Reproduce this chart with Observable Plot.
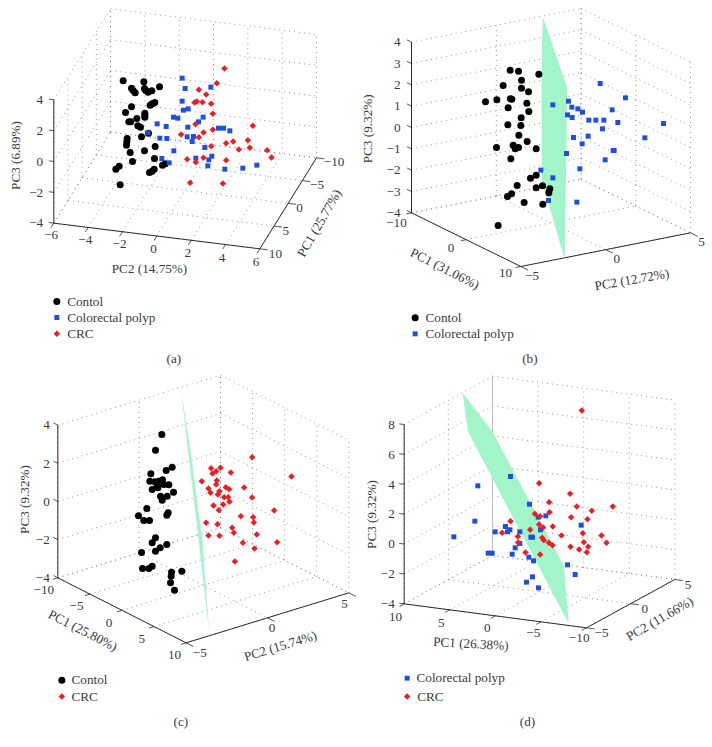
<!DOCTYPE html>
<html><head><meta charset="utf-8">
<script src="https://cdn.jsdelivr.net/npm/d3@7"></script>
<script src="https://cdn.jsdelivr.net/npm/@observablehq/plot@0.6"></script>
<style>
html,body{margin:0;padding:0;background:#fff;overflow:hidden}
#wrap{display:flex;flex-wrap:wrap;width:712px;height:747px}
svg{display:block}
</style></head><body><div id="wrap"></div>
<script>
// Scatter values (projected plane units, 1068 x 1122 per panel)
const aControl=[[368,241],[430,244],[477,259],[393,263],[398,270],[404,277],[432,264],[436,270],[454,271],[443,275],[463,306],[455,310],[449,314],[393,319],[375,336],[433,338],[433,345],[409,354],[385,364],[391,364],[433,350],[412,376],[420,380],[444,398],[423,409],[380,414],[379,424],[378,434],[464,438],[432,451],[389,456],[462,474],[396,483],[486,494],[494,490],[461,506],[447,516],[455,512],[356,497],[346,506],[359,553]];
const aPolyp=[[545,233],[554,264],[631,260],[545,302],[563,325],[549,329],[519,350],[532,353],[470,370],[497,378],[608,350],[594,364],[562,380],[443,397],[478,413],[499,414],[560,409],[579,408],[575,423],[654,383],[669,383],[688,391],[613,441],[520,451],[484,474],[586,473],[634,467],[625,478],[506,487],[622,496],[673,506],[727,503],[769,494]];
const aCRC=[[672,204],[649,248],[595,268],[617,282],[582,306],[589,303],[606,305],[632,310],[637,340],[585,371],[637,388],[757,376],[609,396],[595,410],[542,402],[742,419],[698,423],[677,428],[632,437],[748,442],[715,447],[800,449],[813,471],[560,476],[609,472],[586,485],[677,479],[569,547],[667,549]];
const bControl=[[461,209],[486,212],[547,221],[495,239],[440,255],[495,263],[516,274],[387,304],[421,298],[462,295],[466,296],[511,308],[455,322],[517,333],[494,352],[454,373],[493,375],[487,404],[512,423],[420,441],[470,434],[476,445],[486,441],[539,445],[463,475],[539,524],[522,533],[482,555],[539,562],[558,556],[580,565],[577,577],[465,580],[453,588],[503,606],[559,611],[425,675]];
const bPolyp=[[731,249],[807,292],[589,313],[636,302],[646,320],[664,325],[678,335],[767,328],[633,343],[647,351],[697,359],[718,359],[742,359],[784,366],[921,369],[738,385],[651,411],[695,407],[865,412],[677,430],[630,459],[770,450],[773,450],[746,478],[670,505],[553,509],[589,532],[576,600],[661,605]];
const cControl=[[484,180],[465,227],[515,278],[497,288],[451,298],[448,320],[463,322],[475,320],[486,316],[505,331],[490,330],[470,332],[455,345],[472,340],[519,353],[480,365],[500,365],[485,377],[439,402],[503,415],[499,422],[414,424],[430,438],[447,438],[465,490],[455,505],[499,510],[479,520],[465,530],[423,534],[455,575],[445,582],[426,582],[513,593],[544,590],[512,605],[510,625],[522,647]];
const cCRC=[[755,248],[873,306],[632,281],[660,280],[647,290],[636,297],[691,294],[604,320],[649,318],[647,330],[624,342],[630,355],[676,338],[686,344],[731,339],[657,350],[652,360],[755,369],[671,368],[683,368],[687,382],[668,390],[639,393],[655,407],[821,408],[721,425],[758,428],[760,444],[617,445],[651,449],[695,460],[700,475],[624,483],[657,484],[769,480],[727,505],[830,503],[762,522],[703,561]];
const dPolyp=[[462,306],[364,334],[519,389],[568,424],[545,428],[355,440],[674,452],[447,456],[460,466],[453,472],[416,472],[490,472],[552,466],[292,487],[523,488],[528,488],[490,507],[476,520],[467,539],[395,536],[407,536],[517,548],[531,559],[633,571],[656,600],[528,607],[510,623],[546,640]];
const dCRC=[[676,108],[548,326],[641,358],[578,383],[661,396],[769,396],[706,409],[579,413],[535,418],[551,425],[644,428],[693,434],[462,440],[548,450],[560,459],[589,456],[521,466],[679,476],[437,475],[615,483],[735,483],[484,486],[557,490],[562,497],[485,504],[682,503],[750,505],[577,505],[588,512],[642,517],[695,517],[668,525],[691,533],[507,534],[551,540]];

// Separating planes
const bPlane=[[560,52],[632,262],[625,768],[622,768],[556,540],[555,300],[556,130]];
const cPlane=[[542,45],[573,250],[606,500],[626,775],[595,500],[565,250]];
const dPlane=[[318,55],[408,172],[612,555],[622,575],[637,748],[520,525],[335,172]];

// Axis ticks
const aPC2=[-6,-4,-2,0,2,4,6], aPC1=[10,5,0,-5,-10], aPC3=[-4,-2,0,2,4];
const bPC1=[-10,0,10], bPC2=[-5,0,5], bPC3=[-4,-3,-2,-1,0,1,2,3,4];
const cPC1=[-10,-5,0,5,10], cPC2=[-5,0,5], cPC3=[-4,-2,0,2,4];
const dPC1=[10,5,0,-5,-10], dPC2=[-5,0,5], dPC3=[-4,-2,0,2,4,6,8];

const BLACK="#000", BLUE="#1f4fe0", RED="#ee1c25", PLANE="#a2f5c9", INK="#3a3a3a", GRID="#808080";
const FONT="'Liberation Serif',serif";
const sym={c:{symbol:"circle",r:3.5,fill:BLACK},p:{symbol:"square",r:2.8,fill:BLUE},r:{symbol:"diamond2",r:2.9,fill:RED}};
const minus=v=>String(v).replace("-","\u2212");

const panels=[
{h:374,A:[160,668],B:[778,745],C:[948,472],zh:370,u:aPC2,v:aPC1,z:aPC3,zx:128,
 uL:[[152,703],[767,785],"middle"],vL:[[805,760],[970,485],"start"],
 labels:[["PC2 (14.75%)",447,805,0],["PC3 (6.89%)",45,465,-90],["PC1 (25.77%)",957,668,-60]],
 series:[[aControl,"c"],[aPolyp,"p"],[aCRC,"r"]],plane:null,
 legend:[["Contol","c",169,903,200],["Colorectal polyp","p",169,951,200],["CRC","r",169,1000,200]],cap:["(a)",520,1075]},
{h:374,A:[165,637],B:[493,798],C:[1002,697],zh:512,u:bPC1,v:bPC2,z:bPC3,zx:132,
 uL:[[120,668],[447,818],"middle"],vL:[[527,825],[1035,725],"middle"],
 labels:[["PC2 (12.72%)",826,838,-10],["PC3 (9.32%)",33,385,-90],["PC1 (31.06%)",265,805,27]],
 series:[[bControl,"c"],[bPolyp,"p"]],plane:bPlane,
 legend:[["Contol","c",176,952,207],["Colorectal polyp","p",176,1000,207]],cap:["(b)",520,1075]},
{h:373,A:[172,610],B:[557,805],C:[1045,655],zh:458,u:cPC1,v:cPC2,z:cPC3,zx:148,
 uL:[[130,647],[522,840],"middle"],vL:[[598,835],[1032,687],"middle"],
 labels:[["PC2 (15.74%)",840,815,-17],["PC3 (9.32%)",73,375,-90],["PC1 (25.80%)",247,768,27]],
 series:[[cControl,"c"],[cCRC,"r"]],plane:cPlane,
 legend:[["Contol","c",184,917,213],["CRC","r",184,966,213]],cap:["(c)",541,1042]},
{h:373,A:[143,688],B:[690,760],C:[955,615],zh:538,u:dPC1,v:dPC2,z:dPC3,zx:115,
 uL:[[117,728],[668,790],"middle"],vL:[[735,775],[995,630],"middle"],
 labels:[["PC2 (11.66%)",910,733,-30],["PC3 (9.32%)",45,420,-90],["PC1 (26.38%)",343,808,3]],
 series:[[dPolyp,"p"],[dCRC,"r"]],plane:dPlane,backLine:true,
 legend:[["Colorectal polyp","p",152,911,180],["CRC","r",152,966,182]],cap:["(d)",513,1042]}
];

function draw(p){
  const frac=(arr,val)=>(val-arr[0])/(arr[arr.length-1]-arr[0]);
  const U=[p.B[0]-p.A[0],p.B[1]-p.A[1]], V=[p.C[0]-p.B[0],p.C[1]-p.B[1]];
  const ul=Math.hypot(...U), vl=Math.hypot(...V);
  // orthographic projection of a (u, v, z) triple given as fractions of the box
  const P=(a,b,c)=>[p.A[0]+a*U[0]+b*V[0], p.A[1]+a*U[1]+b*V[1]-c*p.zh];
  const seg=(a,b)=>({x1:a[0],y1:a[1],x2:b[0],y2:b[1]});
  const grid=[], axes=[], ticks=[], texts=[];
  for(const u of p.u){const t=frac(p.u,u);
    grid.push(seg(P(t,0,0),P(t,1,0)),seg(P(t,1,0),P(t,1,1)));
    const s=P(t,0,0); ticks.push(seg(s,[s[0]-V[0]/vl*16,s[1]-V[1]/vl*16]));
    const q=[p.uL[0][0]+t*(p.uL[1][0]-p.uL[0][0]),p.uL[0][1]+t*(p.uL[1][1]-p.uL[0][1])];
    texts.push({t:minus(u),x:q[0],y:q[1],a:p.uL[2],rot:0});
  }
  for(const v of p.v){const t=frac(p.v,v);
    grid.push(seg(P(0,t,0),P(1,t,0)),seg(P(0,t,0),P(0,t,1)));
    const s=P(1,t,0); ticks.push(seg(s,[s[0]+U[0]/ul*24,s[1]+U[1]/ul*24]));
    const q=[p.vL[0][0]+t*(p.vL[1][0]-p.vL[0][0]),p.vL[0][1]+t*(p.vL[1][1]-p.vL[0][1])];
    texts.push({t:minus(v),x:q[0],y:q[1],a:p.vL[2],rot:0});
  }
  for(const z of p.z){const t=frac(p.z,z);
    grid.push(seg(P(0,0,t),P(0,1,t)),seg(P(0,1,t),P(1,1,t)));
    const s=P(0,0,t); ticks.push(seg(s,[s[0]-U[0]/ul*15,s[1]-U[1]/ul*15]));
    texts.push({t:minus(z),x:p.zx,y:s[1],a:"end",rot:0});
  }
  axes.push(seg(P(0,0,0),P(0,0,1)),seg(P(0,0,0),P(1,0,0)),seg(P(1,0,0),P(1,1,0)));
  for(const [t,x,y,rot] of p.labels) texts.push({t,x,y,a:"middle",rot});
  for(const [t,,,y,tx] of p.legend) texts.push({t,x:tx,y,a:"start",rot:0});
  texts.push({t:p.cap[0],x:p.cap[1],y:p.cap[2],a:"middle",rot:0});

  const marks=[
    Plot.link(grid,{x1:"x1",y1:"y1",x2:"x2",y2:"y2",stroke:GRID,strokeWidth:0.9,strokeDasharray:"0.9 4.1"})
  ];
  if(p.backLine) marks.push(Plot.link([seg(P(0,1,0),P(0,1,1))],{x1:"x1",y1:"y1",x2:"x2",y2:"y2",stroke:"#b8bfc6",strokeWidth:1}));
  if(p.plane) marks.push(Plot.line([...p.plane,p.plane[0]],{x:d=>d[0],y:d=>d[1],fill:PLANE,stroke:"none",curve:"linear"}));
  marks.push(
    Plot.link(axes,{x1:"x1",y1:"y1",x2:"x2",y2:"y2",stroke:"#2b2b2b",strokeWidth:1}),
    Plot.link(ticks,{x1:"x1",y1:"y1",x2:"x2",y2:"y2",stroke:"#2b2b2b",strokeWidth:0.8})
  );
  for(const [pts,k] of p.series) marks.push(Plot.dot(pts,{x:d=>d[0],y:d=>d[1],stroke:"none",...sym[k]}));
  for(const [,k,x,y] of p.legend) marks.push(Plot.dot([[x,y]],{x:d=>d[0],y:d=>d[1],stroke:"none",...sym[k]}));
  for(const anchor of ["start","middle","end"]){
    marks.push(Plot.text(texts.filter(d=>d.a===anchor),{x:"x",y:"y",text:"t",rotate:"rot",textAnchor:anchor,
      fontSize:13.2,fontFamily:FONT,fill:INK,lineAnchor:"middle"}));
  }
  return Plot.plot({width:356,height:p.h,margin:0,
    x:{domain:[0,1068],range:[0,356],axis:null},
    y:{domain:[0,p.h*3],range:[0,p.h],axis:null},
    style:{background:"#fff"},marks});
}
const wrap=document.getElementById("wrap");
for(const p of panels) wrap.appendChild(draw(p));
</script></body></html>
